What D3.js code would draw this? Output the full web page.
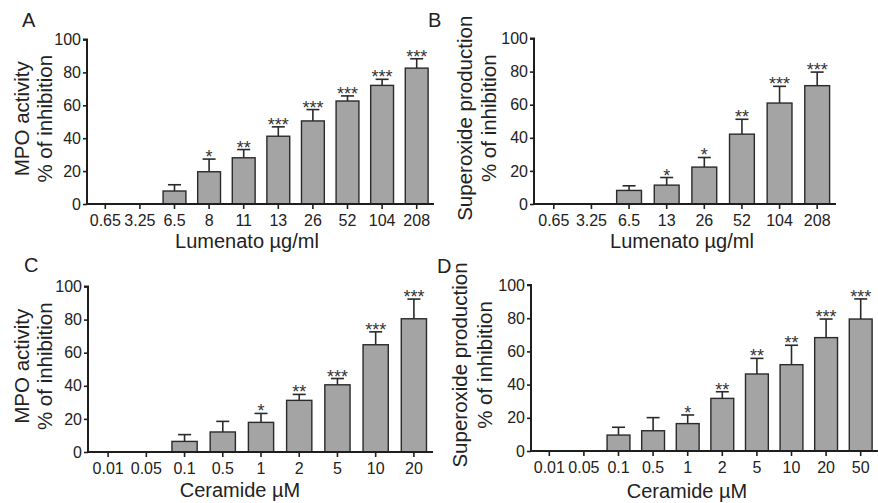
<!DOCTYPE html>
<html>
<head>
<meta charset="utf-8">
<script src="https://cdn.jsdelivr.net/npm/d3@7"></script>
<style>
  body { margin: 0; background: #fff; }
  text { font-family: "Liberation Sans", Arial, sans-serif; fill: #222; }
</style>
</head>
<body>
<div id="chart"></div>
<script>
// Panel A: MPO activity vs Lumenato
var lumenatoA = ['0.65', '3.25', '6.5', '8', '11', '13', '26', '52', '104', '208'];
var mpoLumenato = [0, 0, 7.9, 19.6, 28.1, 41.2, 50.5, 62.6, 72.1, 82.6];
var mpoLumenatoErr = [0, 0, 3.8, 7.7, 5.0, 5.7, 6.9, 3.1, 3.7, 5.7];
var mpoLumenatoStars = ['', '', '', '*', '**', '***', '***', '***', '***', '***'];

// Panel B: superoxide vs Lumenato
var lumenatoB = ['0.65', '3.25', '6.5', '13', '26', '52', '104', '208'];
var superLumenato = [0, 0, 8.2, 11.4, 22.3, 42.2, 61.0, 71.5];
var superLumenatoErr = [0, 0, 2.8, 4.6, 5.8, 9.0, 10.1, 8.2];
var superLumenatoStars = ['', '', '', '*', '*', '**', '***', '***'];

// Panel C: MPO activity vs Ceramide
var ceramideC = ['0.01', '0.05', '0.1', '0.5', '1', '2', '5', '10', '20'];
var mpoCeramide = [0, 0, 6.4, 12.1, 17.9, 31.2, 40.6, 64.8, 80.5];
var mpoCeramideErr = [0, 0, 4.1, 6.4, 5.4, 3.6, 3.8, 7.8, 11.9];
var mpoCeramideStars = ['', '', '', '', '*', '**', '***', '***', '***'];

// Panel D: superoxide vs Ceramide
var ceramideD = ['0.01', '0.05', '0.1', '0.5', '1', '2', '5', '10', '20', '50'];
var superCeramide = [0, 0, 9.6, 12.2, 16.5, 31.7, 46.4, 52.0, 68.3, 79.5];
var superCeramideErr = [0, 0, 4.7, 7.9, 5.2, 4.0, 9.4, 11.7, 11.2, 12.1];
var superCeramideStars = ['', '', '', '', '*', '**', '**', '**', '***', '***'];

var yTicks = [0, 20, 40, 60, 80, 100];

var svg = d3.select('#chart')
  .append('svg')
  .attr('width', 878)
  .attr('height', 503);

function drawPanel(p) {
  var g = svg.append('g');

  var x = d3.scaleBand()
    .domain(p.cats)
    .range([p.x0 + 1, p.x1])
    .paddingInner(0.34)
    .paddingOuter(0.17);

  var y = d3.scaleLinear()
    .domain([0, 100])
    .range([p.y0, p.y100]);

  var rows = p.cats.map((c, i) => ({
    cat: c, value: p.values[i], err: p.errs[i], stars: p.stars[i]
  }));
  // zero bars are not drawn in the original
  var shown = rows.filter(d => d.value > 0);

  // error bars go behind the bars
  g.selectAll('line.err')
    .data(shown)
    .enter()
    .append('line')
    .attr('x1', d => x(d.cat) + x.bandwidth() / 2)
    .attr('x2', d => x(d.cat) + x.bandwidth() / 2)
    .attr('y1', d => y(d.value))
    .attr('y2', d => y(d.value + d.err))
    .style('stroke', '#2a2a2a')
    .style('stroke-width', '1.6px');

  g.selectAll('line.cap')
    .data(shown)
    .enter()
    .append('line')
    .attr('x1', d => x(d.cat) + x.bandwidth() / 2 - 6.5)
    .attr('x2', d => x(d.cat) + x.bandwidth() / 2 + 6.5)
    .attr('y1', d => y(d.value + d.err))
    .attr('y2', d => y(d.value + d.err))
    .style('stroke', '#2a2a2a')
    .style('stroke-width', '1.6px');

  g.selectAll('rect.bar')
    .data(shown)
    .enter()
    .append('rect')
    .attr('class', 'bar')
    .attr('x', d => x(d.cat))
    .attr('width', x.bandwidth())
    .attr('y', d => y(d.value))
    .attr('height', d => y(0) - y(d.value))
    .style('fill', '#a4a4a4')
    .style('stroke', '#2a2a2a')
    .style('stroke-width', '1.4px');

  g.selectAll('text.star')
    .data(shown.filter(d => d.stars))
    .enter()
    .append('text')
    .attr('x', d => x(d.cat) + x.bandwidth() / 2)
    .attr('y', d => y(d.value + d.err) + 4)
    .attr('text-anchor', 'middle')
    .style('font-size', '18px')
    .style('fill', '#333')
    .text(d => d.stars);

  // axes
  var yAxis = d3.axisLeft(y).tickValues(yTicks).tickSize(4).tickPadding(2);
  var yG = g.append('g')
    .attr('transform', 'translate(' + p.x0 + ',0)')
    .call(yAxis);

  var xAxis = d3.axisBottom(x).tickSize(5).tickPadding(6).tickSizeOuter(0);
  var xG = g.append('g')
    .attr('transform', 'translate(0,' + p.y0 + ')')
    .call(xAxis);

  [yG, xG].forEach(a => {
    a.select('.domain').style('stroke', '#1e1e1e').style('stroke-width', '2px');
    a.selectAll('.tick line').style('stroke', '#1e1e1e').style('stroke-width', '1.6px');
    a.selectAll('.tick text')
      .style('font-size', '16px')
      .style('font-family', '"Liberation Sans", Arial, sans-serif')
      .style('fill', '#222');
  });
  // y domain has a small tick at the top, x domain runs from the y axis
  yG.select('.domain').attr('d', 'M-4,' + y(100) + 'H0V' + (y(0) + 1));
  xG.select('.domain').attr('d', 'M' + (p.x0 - 1) + ',0H' + p.x1);

  // x title
  g.append('text')
    .attr('x', p.xTitleX)
    .attr('y', p.xTitleY)
    .attr('text-anchor', 'middle')
    .style('font-size', '20px')
    .text(p.xTitle);

  // y title (two lines)
  var yc = (p.y0 + p.y100) / 2 - 3;
  p.yTitle.forEach((line, i) => {
    g.append('text')
      .attr('transform', 'translate(' + p.yTitleX[i] + ',' + yc + ') rotate(-90)')
      .attr('text-anchor', 'middle')
      .style('font-size', '20.5px')
      .text(line);
  });

  // panel letter
  g.append('text')
    .attr('x', p.letterX)
    .attr('y', p.letterY)
    .style('font-size', '20px')
    .text(p.letter);
}

drawPanel({
  letter: 'A', letterX: 22, letterY: 27,
  cats: lumenatoA, values: mpoLumenato, errs: mpoLumenatoErr, stars: mpoLumenatoStars,
  x0: 87, x1: 434, y0: 204, y100: 39.5,
  xTitle: 'Lumenato \u00b5g/ml', xTitleX: 247, xTitleY: 248,
  yTitle: ['MPO activity', '% of inhibition'], yTitleX: [29, 52]
});

drawPanel({
  letter: 'B', letterX: 428, letterY: 27,
  cats: lumenatoB, values: superLumenato, errs: superLumenatoErr, stars: superLumenatoStars,
  x0: 534, x1: 836, y0: 204, y100: 38.5,
  xTitle: 'Lumenato \u00b5g/ml', xTitleX: 682, xTitleY: 248,
  yTitle: ['Superoxide production', '% of inhibition'], yTitleX: [471.5, 496]
});

drawPanel({
  letter: 'C', letterX: 24, letterY: 272,
  cats: ceramideC, values: mpoCeramide, errs: mpoCeramideErr, stars: mpoCeramideStars,
  x0: 88, x1: 433, y0: 452, y100: 286.5,
  xTitle: 'Ceramide \u00b5M', xTitleX: 240, xTitleY: 497,
  yTitle: ['MPO activity', '% of inhibition'], yTitleX: [29, 52]
});

drawPanel({
  letter: 'D', letterX: 437, letterY: 273,
  cats: ceramideD, values: superCeramide, errs: superCeramideErr, stars: superCeramideStars,
  x0: 531, x1: 878, y0: 451, y100: 285,
  xTitle: 'Ceramide \u00b5M', xTitleX: 687, xTitleY: 498,
  yTitle: ['Superoxide production', '% of inhibition'], yTitleX: [467, 492]
});
</script>
</body>
</html>
